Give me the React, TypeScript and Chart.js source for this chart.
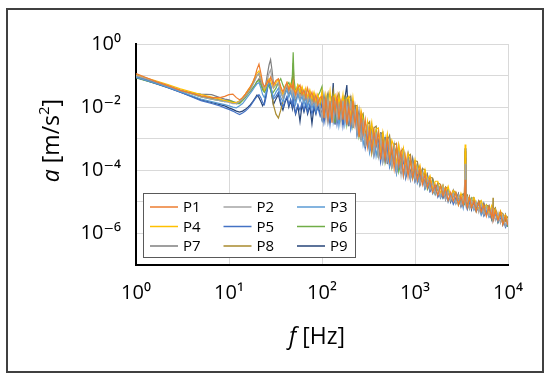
import React, { useEffect, useRef } from "react";
import { Chart, registerables } from "chart.js";

Chart.register(...registerables);

// Frequencies [Hz]
const FREQ = [
  1, 1.3, 1.7, 2.2, 3, 4, 5, 6.5, 8, 9,
  10, 11, 12, 13, 14, 15, 16, 17, 18, 19,
  20, 21, 22, 23, 24, 25, 26, 27, 28, 29,
  30, 32, 34, 36, 38, 40, 42, 44, 46, 48,
  49, 50, 52, 55, 58, 61, 64, 67, 70, 74,
  78, 82, 86, 90, 95, 100, 105, 110, 116, 122,
  128, 132, 138, 145, 152, 160, 168, 176, 185, 194,
  204, 215, 226, 238, 250, 263, 277, 292, 308, 325,
  343, 362, 382, 404, 427, 451, 477, 504, 533, 564,
  597, 632, 669, 708, 750, 795, 842, 892, 945, 1000,
  1060, 1130, 1200, 1280, 1360, 1450, 1550, 1650, 1760, 1880,
  2000, 2130, 2270, 2420, 2580, 2750, 2930, 3120, 3300, 3400,
  3460, 3520, 3650, 3850, 4050, 4300, 4550, 4850, 5150, 5500,
  5850, 6250, 6650, 6850, 6900, 6950, 7300, 7800, 8300, 8800,
  9400, 10000,
];

// Acceleration a [m/s²]
const P1 = [
  0.115, 0.085, 0.062, 0.048, 0.034, 0.027, 0.023, 0.02, 0.02, 0.022,
  0.025, 0.026, 0.02, 0.017, 0.02, 0.026, 0.035, 0.045, 0.06, 0.09,
  0.16, 0.23, 0.12, 0.06, 0.045, 0.05, 0.07, 0.06, 0.09, 0.07,
  0.05, 0.07, 0.08, 0.045, 0.03, 0.045, 0.06, 0.035, 0.05, 0.04,
  0.06, 0.035, 0.025, 0.04, 0.05, 0.025, 0.035, 0.02, 0.04, 0.02,
  0.03, 0.015, 0.025, 0.012, 0.02, 2.2e-2, 4.5e-3, 2e-2, 4e-3, 1.6e-2,
  3.2e-3, 2.2e-2, 7.1e-3, 2.2e-2, 4e-3, 1.6e-2, 4e-3, 1.8e-2, 2.8e-3, 1e-2,
  3.2e-3, 1.6e-2, 2.8e-3, 7.9e-3, 1.12e-3, 5.6e-3, 1.4e-3, 4e-3, 5.6e-4, 2e-3,
  4e-4, 1.8e-3, 6.3e-4, 1.6e-3, 2.2e-4, 8.9e-4, 2.2e-4, 1.12e-3, 2e-4, 5.6e-4,
  1.12e-4, 5.6e-4, 1.4e-4, 4e-4, 7.1e-5, 2.8e-4, 6.3e-5, 2.2e-4, 5.6e-5, 1.6e-4,
  4.8e-5, 1.15e-4, 3.5e-5, 7.4e-5, 2.8e-5, 5.4e-5, 2e-5, 3.5e-5, 1.6e-5, 3.2e-5,
  1.5e-5, 2.7e-5, 1.1e-5, 2e-5, 1.05e-5, 1.95e-5, 7.9e-6, 1.5e-5, 7.9e-6, 1.23e-5,
  5e-5, 1.07e-5, 6.6e-6, 1.4e-5, 6.5e-6, 1.07e-5, 5e-6, 1.02e-5, 4.8e-6, 7.8e-6,
  3.5e-6, 7.2e-6, 3.3e-6, 5.6e-6, 4e-6, 2.75e-6, 5.1e-6, 2.6e-6, 4.7e-6, 1.9e-6,
  3.5e-6, 1.8e-6,
];
const P2 = [
  0.1, 0.08, 0.062, 0.047, 0.034, 0.026, 0.021, 0.018, 0.016, 0.015,
  0.014, 0.013, 0.013, 0.015, 0.018, 0.022, 0.028, 0.035, 0.05, 0.07,
  0.1, 0.12, 0.08, 0.05, 0.04, 0.05, 0.08, 0.12, 0.15, 0.08,
  0.04, 0.05, 0.06, 0.03, 0.02, 0.035, 0.05, 0.03, 0.04, 0.025,
  0.05, 0.03, 0.02, 0.035, 0.02, 0.03, 0.018, 0.03, 0.015, 0.025,
  0.012, 0.02, 0.01, 0.018, 0.01, 4.5e-3, 1.6e-2, 4e-3, 1.8e-2, 5e-3,
  1.4e-2, 3.2e-3, 1.6e-2, 4e-3, 1.12e-2, 3.2e-3, 1.6e-2, 3.2e-3, 1.26e-2, 3.5e-3,
  1.6e-2, 2.2e-3, 8.9e-3, 1.6e-3, 5e-3, 7.9e-4, 4e-3, 5.6e-4, 2.2e-3, 5e-4,
  1.4e-3, 3.2e-4, 1.6e-3, 2.8e-4, 1.12e-3, 2e-4, 7.9e-4, 2e-4, 7.9e-4, 1.12e-4,
  5e-4, 1e-4, 3.5e-4, 7.1e-5, 3.2e-4, 7.1e-5, 2.2e-4, 5.6e-5, 1.6e-4, 5e-5,
  1.2e-4, 3.6e-5, 7.9e-5, 2.95e-5, 5.6e-5, 2.4e-5, 4e-5, 1.8e-5, 3.2e-5, 1.45e-5,
  2.95e-5, 1.2e-5, 2.2e-5, 1.12e-5, 1.86e-5, 8.7e-6, 1.6e-5, 7.4e-6, 1.4e-5, 1.1e-5,
  1.6e-4, 8.5e-6, 1.32e-5, 6.2e-6, 1.15e-5, 6e-6, 1e-5, 4.6e-6, 8.5e-6, 3.9e-6,
  7.1e-6, 3.6e-6, 5.9e-6, 2.8e-6, 4.5e-6, 4.9e-6, 2.6e-6, 4.6e-6, 2.1e-6, 3.8e-6,
  1.74e-6, 2.8e-6,
];
const P3 = [
  0.09, 0.07, 0.055, 0.043, 0.031, 0.023, 0.018, 0.015, 0.013, 0.012,
  0.011, 0.01, 0.0095, 0.011, 0.013, 0.017, 0.022, 0.028, 0.035, 0.045,
  0.055, 0.06, 0.04, 0.025, 0.02, 0.03, 0.045, 0.06, 0.05, 0.03,
  0.02, 0.03, 0.04, 0.02, 0.015, 0.025, 0.035, 0.02, 0.03, 0.02,
  0.035, 0.02, 0.012, 0.025, 0.015, 0.022, 0.012, 0.02, 0.01, 0.018,
  0.009, 0.015, 0.008, 0.014, 0.009, 4e-3, 1e-2, 1.8e-2, 3.2e-3, 7.9e-3,
  1.4e-2, 3.5e-3, 7.9e-3, 1.26e-2, 2.5e-3, 6.3e-3, 1.26e-2, 2.8e-3, 7.9e-3, 1.12e-2,
  2.2e-3, 5e-3, 7.9e-3, 1.4e-3, 2.8e-3, 4e-3, 6.3e-4, 1.26e-3, 1.8e-3, 3.5e-4,
  7.1e-4, 1.4e-3, 2.8e-4, 7.1e-4, 8.9e-4, 1.8e-4, 4e-4, 7.1e-4, 1.4e-4, 2.8e-4,
  4e-4, 7.9e-5, 1.8e-4, 2.8e-4, 6.3e-5, 1.4e-4, 1.8e-4, 5e-5, 8.9e-5, 1.26e-4,
  3.8e-5, 5.75e-5, 7.1e-5, 2.6e-5, 4e-5, 4.3e-5, 1.8e-5, 2.5e-5, 2.8e-5, 1.3e-5,
  1.86e-5, 2.1e-5, 9.8e-6, 1.6e-5, 1.66e-5, 8.7e-6, 1.12e-5, 1.32e-5, 6.3e-6, 1.1e-5,
  4e-5, 9.5e-6, 6.6e-6, 9.8e-6, 1.02e-5, 5.4e-6, 7.1e-6, 8.1e-6, 3.8e-6, 6.2e-6,
  5.6e-6, 3.2e-6, 4.2e-6, 5e-6, 2.8e-6, 3.5e-6, 4.1e-6, 2.3e-6, 3.3e-6, 3.4e-6,
  1.74e-6, 2.2e-6,
];
const P4 = [
  0.105, 0.083, 0.066, 0.052, 0.038, 0.03, 0.025, 0.021, 0.018, 0.016,
  0.015, 0.014, 0.014, 0.016, 0.02, 0.026, 0.034, 0.045, 0.06, 0.09,
  0.12, 0.14, 0.09, 0.05, 0.035, 0.045, 0.06, 0.08, 0.07, 0.05,
  0.04, 0.06, 0.075, 0.04, 0.025, 0.04, 0.06, 0.04, 0.055, 0.035,
  0.07, 0.04, 0.03, 0.05, 0.03, 0.045, 0.025, 0.04, 0.02, 0.035,
  0.018, 0.03, 0.015, 0.025, 0.014, 3.2e-2, 6.3e-3, 2.5e-2, 1e-2, 3.2e-2,
  6.3e-3, 2e-2, 2.5e-2, 5e-3, 2.2e-2, 8.9e-3, 2.5e-2, 5e-3, 1.8e-2, 2.2e-2,
  5e-3, 2e-2, 5e-3, 1e-2, 2e-3, 7.9e-3, 4e-3, 8.9e-4, 3.5e-3, 1e-3,
  3.2e-3, 5.6e-4, 2e-3, 2.2e-3, 4.5e-4, 1.6e-3, 5e-4, 1.4e-3, 2.5e-4, 8.9e-4,
  5.6e-4, 1.4e-4, 6.3e-4, 2e-4, 5e-4, 1.12e-4, 3.5e-4, 2e-4, 7.9e-5, 2.2e-4,
  8.5e-5, 1.45e-4, 5e-5, 1.05e-4, 4.5e-5, 6.8e-5, 2.8e-5, 4.5e-5, 4.5e-5, 1.8e-5,
  3.3e-5, 1.9e-5, 3.1e-5, 1.4e-5, 2.3e-5, 1.74e-5, 1e-5, 1.86e-5, 1.12e-5, 1.55e-5,
  6.5e-4, 1.7e-5, 1.05e-5, 1.4e-5, 7.2e-6, 1.35e-5, 8.9e-6, 5.75e-6, 1.07e-5, 6.2e-6,
  7.9e-6, 4.1e-6, 7.4e-6, 4.5e-6, 6.3e-6, 3.9e-6, 5.75e-6, 2.9e-6, 5.2e-6, 3e-6,
  3.9e-6, 2.2e-6,
];
const P5 = [
  0.088, 0.07, 0.054, 0.042, 0.03, 0.021, 0.016, 0.013, 0.011, 0.0095,
  0.0085, 0.0075, 0.0065, 0.0058, 0.0065, 0.0075, 0.009, 0.011, 0.014, 0.018,
  0.022, 0.025, 0.02, 0.014, 0.012, 0.02, 0.04, 0.072, 0.05, 0.03,
  0.018, 0.022, 0.03, 0.015, 0.01, 0.016, 0.022, 0.012, 0.018, 0.011,
  0.02, 0.012, 0.0065, 0.012, 0.008, 0.014, 0.008, 0.013, 0.007, 0.012,
  0.006, 0.011, 0.0065, 0.01, 0.0055, 1.4e-2, 3.2e-3, 7.1e-3, 1.4e-2, 2.8e-3,
  8.9e-3, 4e-3, 1.12e-2, 2.8e-3, 6.3e-3, 1.26e-2, 2.5e-3, 7.1e-3, 3.2e-3, 1e-2,
  2e-3, 5e-3, 6.3e-3, 1.26e-3, 2.5e-3, 1.12e-3, 2.8e-3, 5e-4, 1.12e-3, 4.5e-4,
  1.26e-3, 2.8e-4, 5.6e-4, 8.9e-4, 1.8e-4, 5e-4, 2e-4, 5.6e-4, 1.26e-4, 2.5e-4,
  3.2e-4, 7.9e-5, 1.8e-4, 8.9e-5, 2.2e-4, 5.6e-5, 1.26e-4, 5.6e-5, 1.26e-4, 4.5e-5,
  7.6e-5, 3.6e-5, 6.3e-5, 2.6e-5, 4.5e-5, 2.1e-5, 2.8e-5, 3.2e-5, 1.4e-5, 2.05e-5,
  1.32e-5, 2.1e-5, 1.1e-5, 1.6e-5, 8.3e-6, 1.23e-5, 1.4e-5, 7.4e-6, 8.9e-6, 1.23e-5,
  1.5e-4, 9.5e-6, 5.9e-6, 9.8e-6, 6.5e-6, 9.5e-6, 5e-6, 6.5e-6, 6.8e-6, 3.5e-6,
  5e-6, 5.75e-6, 2.95e-6, 3.5e-6, 4e-6, 2.75e-6, 4.6e-6, 2.3e-6, 2.95e-6, 3e-6,
  1.55e-6, 2.2e-6,
];
const P6 = [
  0.085, 0.068, 0.054, 0.043, 0.033, 0.026, 0.021, 0.018, 0.016, 0.015,
  0.016, 0.015, 0.013, 0.013, 0.016, 0.02, 0.026, 0.032, 0.04, 0.05,
  0.065, 0.07, 0.05, 0.035, 0.03, 0.04, 0.05, 0.045, 0.035, 0.025,
  0.03, 0.04, 0.06, 0.08, 0.05, 0.035, 0.05, 0.06, 0.04, 0.1,
  0.55, 0.08, 0.03, 0.05, 0.03, 0.04, 0.02, 0.035, 0.018, 0.03,
  0.015, 0.025, 0.013, 0.022, 0.03, 4.5e-2, 5e-3, 1.4e-2, 2.2e-2, 4e-3,
  1e-2, 2e-2, 3.2e-3, 1.12e-2, 2e-2, 4e-3, 6.3e-3, 2e-2, 2.8e-3, 7.9e-3,
  1.4e-2, 2.5e-3, 6.3e-3, 7.9e-3, 1.12e-3, 2e-3, 4.5e-3, 6.3e-4, 1.26e-3, 2.2e-3,
  3.5e-4, 1e-3, 1.8e-3, 2.8e-4, 5.6e-4, 1.12e-3, 1.8e-4, 4.5e-4, 7.9e-4, 1.26e-4,
  3.2e-4, 5e-4, 8.9e-5, 1.8e-4, 3.5e-4, 6.3e-5, 1.4e-4, 2.2e-4, 5.6e-5, 1e-4,
  1.35e-4, 3.6e-5, 6.3e-5, 8.3e-5, 2.5e-5, 3.8e-5, 4.5e-5, 1.8e-5, 2.5e-5, 3.2e-5,
  1.32e-5, 1.9e-5, 2.45e-5, 1.12e-5, 1.5e-5, 1.95e-5, 7.9e-6, 1.17e-5, 1.4e-5, 7.8e-6,
  6e-5, 1.35e-5, 1.05e-5, 6.2e-6, 1.3e-5, 8.5e-6, 5e-6, 1.02e-5, 6.8e-6, 3.9e-6,
  7.9e-6, 5.1e-6, 2.95e-6, 5.6e-6, 4.5e-6, 3.1e-6, 5.1e-6, 2.3e-6, 4.2e-6, 2.1e-6,
  3.5e-6, 1.6e-6,
];
const P7 = [
  0.095, 0.075, 0.058, 0.045, 0.034, 0.028, 0.026, 0.025, 0.02, 0.018,
  0.017, 0.015, 0.014, 0.015, 0.018, 0.022, 0.027, 0.032, 0.04, 0.05,
  0.065, 0.08, 0.06, 0.04, 0.035, 0.06, 0.12, 0.22, 0.32, 0.15,
  0.06, 0.05, 0.06, 0.03, 0.02, 0.03, 0.045, 0.025, 0.035, 0.02,
  0.04, 0.025, 0.015, 0.028, 0.018, 0.03, 0.015, 0.025, 0.012, 0.02,
  0.011, 0.018, 0.01, 0.016, 0.009, 6.3e-3, 2.5e-2, 8.9e-3, 2.2e-2, 4.5e-3,
  2.2e-2, 6.3e-3, 1.8e-2, 4e-3, 2.5e-2, 7.1e-3, 1.8e-2, 4e-3, 2.2e-2, 5e-3,
  1.8e-2, 3.2e-3, 1.12e-2, 2.5e-3, 7.9e-3, 1.12e-3, 4e-3, 5e-4, 2.8e-3, 5.6e-4,
  2.5e-3, 5e-4, 1.8e-3, 3.2e-4, 1.6e-3, 2.8e-4, 1e-3, 2.5e-4, 1e-3, 1.6e-4,
  6.3e-4, 1.26e-4, 5.6e-4, 1.12e-4, 4e-4, 7.9e-5, 3.2e-4, 7.1e-5, 2.2e-4, 6.3e-5,
  1.5e-4, 4.6e-5, 1e-4, 3.3e-5, 7.1e-5, 2.7e-5, 5e-5, 2e-5, 3.5e-5, 1.6e-5,
  3.3e-5, 1.5e-5, 2.45e-5, 1.12e-5, 2.3e-5, 1.1e-5, 1.8e-5, 8.3e-6, 1.6e-5, 1.1e-5,
  2.5e-4, 1.35e-5, 7.4e-6, 1.4e-5, 6.5e-6, 1.2e-5, 6.3e-6, 1.02e-5, 4.8e-6, 8.7e-6,
  4.5e-6, 7.2e-6, 3.3e-6, 6.3e-6, 4e-6, 3.1e-6, 5.75e-6, 2.6e-6, 4.7e-6, 2.4e-6,
  3.9e-6, 1.8e-6,
];
const P8 = [
  0.1, 0.079, 0.061, 0.047, 0.034, 0.027, 0.022, 0.019, 0.017, 0.016,
  0.015, 0.014, 0.013, 0.014, 0.017, 0.022, 0.03, 0.04, 0.055, 0.075,
  0.1, 0.11, 0.07, 0.045, 0.03, 0.035, 0.05, 0.06, 0.045, 0.025,
  0.012, 0.006, 0.0045, 0.008, 0.015, 0.03, 0.05, 0.035, 0.045, 0.06,
  0.25, 0.05, 0.025, 0.04, 0.025, 0.035, 0.018, 0.03, 0.015, 0.025,
  0.013, 0.022, 0.011, 0.02, 0.01, 2.5e-2, 7.1e-3, 1.6e-2, 2.8e-2, 6.3e-3,
  1.8e-2, 3.2e-2, 6.3e-3, 2e-2, 2.8e-2, 7.1e-3, 1.6e-2, 2.2e-2, 5e-3, 2e-2,
  2.2e-2, 4.5e-3, 1.12e-2, 1.12e-2, 2e-3, 5e-3, 6.3e-3, 1.26e-3, 2.8e-3, 3.5e-3,
  7.1e-4, 2.2e-3, 2.5e-3, 5.6e-4, 1.4e-3, 1.6e-3, 3.2e-4, 8.9e-4, 1.26e-3, 2.5e-4,
  6.3e-4, 7.1e-4, 1.6e-4, 4e-4, 5e-4, 1.26e-4, 2.8e-4, 3.2e-4, 8.9e-5, 2e-4,
  1.9e-4, 6.5e-5, 1.12e-4, 1.05e-4, 4e-5, 6e-5, 5.6e-5, 2.5e-5, 4e-5, 3.6e-5,
  1.86e-5, 3e-5, 2.45e-5, 1.4e-5, 2.3e-5, 1.95e-5, 1.12e-5, 1.66e-5, 1.8e-5, 1.4e-5,
  4e-4, 1.5e-5, 1.66e-5, 8.7e-6, 1.3e-5, 1.35e-5, 7.1e-6, 1.02e-5, 1.07e-5, 5.5e-6,
  7.9e-6, 7.2e-6, 4.2e-6, 6.3e-6, 1.35e-5, 5.5e-6, 6.5e-6, 3.2e-6, 4.7e-6, 4.3e-6,
  2.45e-6, 3.5e-6,
];
const P9 = [
  0.087, 0.069, 0.053, 0.041, 0.03, 0.022, 0.017, 0.014, 0.012, 0.011,
  0.0095, 0.0085, 0.0075, 0.007, 0.0075, 0.0085, 0.01, 0.012, 0.015, 0.019,
  0.024, 0.02, 0.015, 0.011, 0.014, 0.025, 0.045, 0.06, 0.04, 0.022,
  0.012, 0.018, 0.025, 0.012, 0.008, 0.014, 0.02, 0.01, 0.016, 0.009,
  0.018, 0.01, 0.006, 0.011, 0.0035, 0.012, 0.007, 0.012, 0.006, 0.011,
  0.003, 0.01, 0.006, 0.012, 0.007, 4e-3, 2e-2, 5.6e-3, 2.2e-2, 3.2e-3,
  1.4e-2, 5.8e-2, 2.8e-3, 1.8e-2, 3.2e-3, 1.26e-2, 2.8e-3, 1.8e-2, 5e-2, 2.5e-3,
  1.26e-2, 2.2e-3, 1.12e-2, 1.8e-3, 6.3e-3, 8.9e-4, 5e-3, 6.3e-4, 2.8e-3, 4e-4,
  2.5e-3, 3.5e-4, 1.6e-3, 2.5e-4, 1.6e-3, 2.2e-4, 1.12e-3, 1.6e-4, 1e-3, 1.4e-4,
  7.1e-4, 8.9e-5, 5e-4, 7.9e-5, 4.5e-4, 6.3e-5, 2.8e-4, 5.6e-5, 2.2e-4, 5e-5,
  1.5e-4, 3.6e-5, 1e-4, 2.95e-5, 7.1e-5, 2.4e-5, 5e-5, 1.8e-5, 3.5e-5, 1.45e-5,
  2.95e-5, 1.2e-5, 2.45e-5, 1e-5, 2.1e-5, 9.8e-6, 1.8e-5, 7.4e-6, 1.6e-5, 1.4e-5,
  5e-4, 2.1e-5, 6.6e-6, 1.4e-5, 5.75e-6, 1.2e-5, 5.6e-6, 1.02e-5, 4.3e-6, 8.7e-6,
  4e-6, 7.2e-6, 2.95e-6, 6.3e-6, 3.5e-6, 2.75e-6, 5.75e-6, 2.3e-6, 4.7e-6, 1.9e-6,
  3.9e-6, 1.6e-6,
];

const SERIES_LABELS = ["P1", "P2", "P3", "P4", "P5", "P6", "P7", "P8", "P9"];
const SERIES_VALUES = [P1, P2, P3, P4, P5, P6, P7, P8, P9];
const SERIES_COLORS = [
  "#ED7D31", "#A5A5A5", "#5B9BD5",
  "#FFC000", "#4472C4", "#70AD47",
  "#7F7F7F", "#A88A2D", "#264478",
];

const X_TICKS = [1, 10, 100, 1000, 10000];
const X_TICK_LABELS = ["10⁰", "10¹", "10²", "10³", "10⁴"];
const Y_TICKS = [1e-7, 1e-6, 1e-5, 1e-4, 1e-3, 1e-2, 1e-1, 1];
const Y_TICK_LABELS = ["", "10⁻⁶", "", "10⁻⁴", "", "10⁻²", "", "10⁰"];

const FONT = "'Open Sans', 'DejaVu Sans', sans-serif";

type Part = { t: string; italic?: boolean; sup?: boolean };
const X_TITLE: Part[] = [{ t: "f", italic: true }, { t: " [Hz]" }];
const Y_TITLE: Part[] = [
  { t: "a", italic: true },
  { t: " [m/s" },
  { t: "2", sup: true },
  { t: "]" },
];

function partFont(p: Part, size: number) {
  const s = p.sup ? Math.round(size * 0.65) : size;
  return `${p.italic ? "italic " : ""}${s}px ${FONT}`;
}

function drawRich(
  ctx: CanvasRenderingContext2D,
  parts: Part[],
  size: number,
  cx: number,
  cy: number,
  rotate: boolean
) {
  ctx.save();
  ctx.translate(cx, cy);
  if (rotate) ctx.rotate(-Math.PI / 2);
  ctx.textBaseline = "middle";
  ctx.textAlign = "left";
  ctx.fillStyle = "#000";
  let total = 0;
  const widths = parts.map((p) => {
    ctx.font = partFont(p, size);
    const w = ctx.measureText(p.t).width;
    total += w;
    return w;
  });
  let x = -total / 2;
  parts.forEach((p, i) => {
    ctx.font = partFont(p, size);
    ctx.fillText(p.t, x, p.sup ? -size * 0.32 : 0);
    x += widths[i];
  });
  ctx.restore();
}

const overlayPlugin = {
  id: "overlay",
  afterDraw(chart: any) {
    const ctx: CanvasRenderingContext2D = chart.ctx;
    const area = chart.chartArea;
    drawRich(ctx, X_TITLE, 23, (area.left + area.right) / 2 - 5, area.bottom + 72, false);
    drawRich(ctx, Y_TITLE, 23, area.left - 84, (area.top + area.bottom) / 2 - 14, true);

    const bx = area.left + 7;
    const by = area.top + 149;
    const bw = 213;
    const bh = 65;
    ctx.save();
    ctx.fillStyle = "#ffffff";
    ctx.fillRect(bx, by, bw, bh);
    ctx.strokeStyle = "#595959";
    ctx.lineWidth = 1;
    ctx.strokeRect(bx + 0.5, by + 0.5, bw - 1, bh - 1);
    ctx.font = `15px ${FONT}`;
    ctx.textBaseline = "middle";
    ctx.textAlign = "left";
    chart.data.datasets.forEach((ds: any, i: number) => {
      const col = i % 3;
      const row = Math.floor(i / 3);
      const lx = bx + 7 + col * 73.5;
      const ly = by + 14 + row * 19.5;
      ctx.strokeStyle = ds.borderColor;
      ctx.lineWidth = 1.5;
      ctx.beginPath();
      ctx.moveTo(lx, ly);
      ctx.lineTo(lx + 28, ly);
      ctx.stroke();
      ctx.fillStyle = "#000";
      ctx.fillText(ds.label, lx + 33, ly + 1);
    });
    ctx.restore();
  },
};

export default function App() {
  const canvasRef = useRef<HTMLCanvasElement | null>(null);

  useEffect(() => {
    const canvas = canvasRef.current;
    if (!canvas) return;
    const datasets = SERIES_LABELS.map((label, si) => ({
      label,
      data: FREQ.map((f, i) => ({ x: f, y: SERIES_VALUES[si][i] })),
      borderColor: SERIES_COLORS[si],
      backgroundColor: SERIES_COLORS[si],
      borderWidth: 1.2,
      pointRadius: 0,
      fill: false,
      tension: 0,
    }));

    const chart = new Chart(canvas, {
      type: "line",
      data: { datasets },
      options: {
        responsive: false,
        animation: false,
        events: [],
        layout: { padding: { left: 0, right: 34, top: 34, bottom: 0 } },
        plugins: {
          legend: { display: false },
          tooltip: { enabled: false },
        },
        scales: {
          x: {
            type: "logarithmic",
            min: 1,
            max: 10000,
            afterBuildTicks: (scale: any) => {
              scale.ticks = X_TICKS.map((v) => ({ value: v }));
            },
            afterFit: (scale: any) => {
              scale.height = 106;
            },
            ticks: {
              autoSkip: false,
              maxRotation: 0,
              padding: 16,
              color: "#000",
              font: { family: FONT, size: 20 },
              callback: (_v: any, i: number) => X_TICK_LABELS[i],
            },
            grid: { color: "#D9D9D9", lineWidth: 1, drawTicks: false },
            border: { display: true, color: "#000", width: 2 },
          },
          y: {
            type: "logarithmic",
            min: 1e-7,
            max: 1,
            afterBuildTicks: (scale: any) => {
              scale.ticks = Y_TICKS.map((v) => ({ value: v }));
            },
            afterFit: (scale: any) => {
              scale.width = 128;
            },
            ticks: {
              autoSkip: false,
              padding: 15,
              color: "#000",
              font: { family: FONT, size: 20 },
              callback: (_v: any, i: number) => Y_TICK_LABELS[i],
            },
            grid: { color: "#D9D9D9", lineWidth: 1, drawTicks: false },
            border: { display: true, color: "#000", width: 2 },
          },
        },
      } as any,
      plugins: [overlayPlugin],
    });
    return () => chart.destroy();
  }, []);

  return (
    <div
      style={{
        position: "absolute",
        left: 6,
        top: 8,
        width: 538,
        height: 365,
        border: "2px solid #404040",
        boxSizing: "border-box",
        background: "#fff",
      }}
    >
      <canvas
        ref={canvasRef}
        width={534}
        height={361}
        style={{ display: "block", width: 534, height: 361 }}
      />
    </div>
  );
}
